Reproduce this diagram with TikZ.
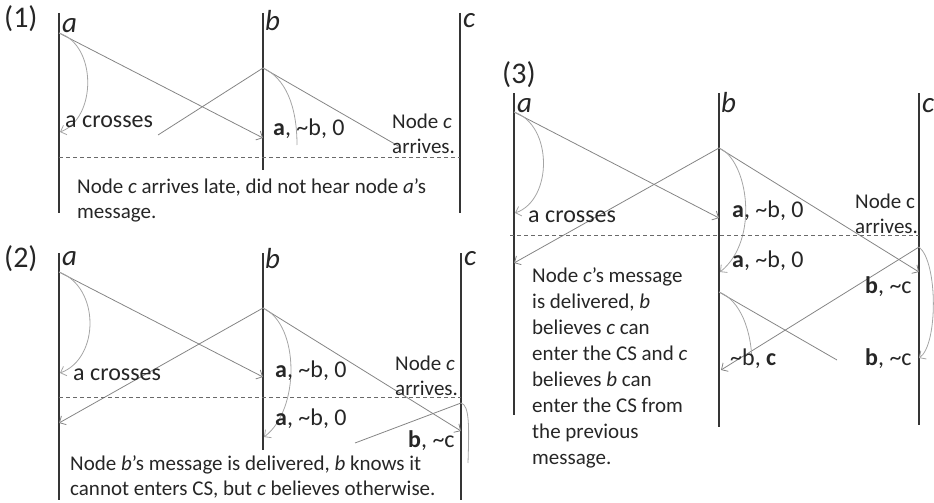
\documentclass[tikz,border=0pt]{standalone}
\usepackage{fontspec}
\setmainfont{Carlito}
\usetikzlibrary{arrows.meta}
\definecolor{ink}{HTML}{262626}
\definecolor{life}{HTML}{353535}
\definecolor{msgc}{HTML}{858585}
\definecolor{arcc}{HTML}{A5A5A5}
\definecolor{dashc}{HTML}{6A6A6A}
\tikzset{
  lifeline/.style={draw=life, line width=1.3pt},
  msg/.style={draw=msgc, line width=0.8pt},
  msgarrow/.style={msg, -{Straight Barb[length=5pt,width=10pt]}},
  crossarc/.style={draw=arcc, line width=0.8pt},
  crossarrow/.style={crossarc, -{Straight Barb[length=5pt,width=10pt]}},
  syncline/.style={draw=dashc, line width=0.8pt, dash pattern=on 4pt off 3pt},
  txt/.style={inner sep=0pt, text=ink, anchor=base west},
  body/.style={txt, font=\fontsize{21}{25}\selectfont, align=left},
  bodyw/.style={txt, font=\fontsize{21}{26}\selectfont, align=left},
  lbl/.style={txt, font=\fontsize{24}{28}\selectfont},
  head/.style={txt, font=\fontsize{30}{34}\selectfont},
  pname/.style={txt, font=\fontsize{29}{32}\selectfont\itshape},
}
\begin{document}
\begin{tikzpicture}[x=1pt,y=-1pt]
\useasboundingbox (0,0) rectangle (934,503);

% ---------------- Panel (1) ----------------
\coordinate (a1t) at (59,13);  \coordinate (a1b) at (59,213);
\coordinate (b1t) at (263,13); \coordinate (b1b) at (263,170);
\coordinate (c1t) at (460,13); \coordinate (c1b) at (460,213);
\draw[lifeline] (a1t) -- (a1b);
\draw[lifeline] (b1t) -- (b1b);
\draw[lifeline] (c1t) -- (c1b);
\coordinate (a1s) at (59,33);
\coordinate (b1r) at (263,138);
\coordinate (a1x) at (60,132);
\coordinate (b1s) at (263,68);
\coordinate (b1l) at (158,135);
\coordinate (b1e) at (400,147);
\coordinate (b1x) at (297,145);
\coordinate (d1l) at (59,157); \coordinate (d1r) at (460,157);
\draw[msgarrow] (a1s) -- (b1r);
\draw[crossarrow] (a1s) .. controls (97,45) and (97,118) .. (a1x);
\draw[msg] (b1s) -- (b1l);
\draw[msg] (b1s) -- (b1e);
\draw[crossarc] (b1s) .. controls (285,78) and (297,105) .. (b1x);
\draw[syncline] (d1l) -- (d1r);
\node[head] (n1) at (4,28) {(1)};
\node[pname] (la1) at (62,33) {a};
\node[pname] (lb1) at (265,31) {b};
\node[pname] (lc1) at (463,28) {c};
\node[lbl] (ac1) at (65,127) {a crosses};
\node[lbl] (ab1) at (273,135) {\textbf{a}, \textasciitilde b, 0};
\node[body] (nc1) at (392,153) {Node \textit{c}\\arrives.};
\node[body] (cap1) at (77,218) {Node \textit{c} arrives late, did not hear node \textit{a}'s\\message.};

% ---------------- Panel (2) ----------------
\coordinate (a2t) at (59,253);  \coordinate (a2b) at (59,500);
\coordinate (b2t) at (263,253); \coordinate (b2b) at (263,450);
\coordinate (c2t) at (461,253); \coordinate (c2b) at (461,500);
\draw[lifeline] (a2t) -- (a2b);
\draw[lifeline] (b2t) -- (b2b);
\draw[lifeline] (c2t) -- (c2b);
\coordinate (a2s) at (59,272);
\coordinate (b2r) at (263,377);
\coordinate (a2x) at (60,373);
\coordinate (b2s) at (263,308);
\coordinate (a2r) at (59,423);
\coordinate (c2r) at (461,431);
\coordinate (b2x) at (264,437);
\coordinate (c2s) at (461,403);
\coordinate (c2l) at (355,443);
\coordinate (c2x) at (468,463);
\coordinate (d2l) at (59,397); \coordinate (d2r) at (461,397);
\draw[msgarrow] (a2s) -- (b2r);
\draw[crossarrow] (a2s) .. controls (100,287) and (100,358) .. (a2x);
\draw[msgarrow] (b2s) -- (a2r);
\draw[msgarrow] (b2s) -- (c2r);
\draw[crossarrow] (b2s) .. controls (300,325) and (300,410) .. (b2x);
\draw[msg] (c2s) -- (c2l);
\draw[crossarc] (c2s) .. controls (470,405) and (469,430) .. (c2x);
\draw[syncline] (d2l) -- (d2r);
\node[head] (n2) at (4,267) {(2)};
\node[pname] (la2) at (62,265) {a};
\node[pname] (lb2) at (265,268) {b};
\node[pname] (lc2) at (464,265) {c};
\node[lbl] (ac2) at (73,380) {a crosses};
\node[lbl] (ab2) at (275,377) {\textbf{a}, \textasciitilde b, 0};
\node[body] (nc2) at (395,395) {Node \textit{c}\\arrives.};
\node[lbl] (ab2b) at (275,425) {\textbf{a}, \textasciitilde b, 0};
\node[lbl] (bc2) at (408,447) {\textbf{b}, \textasciitilde c};
\node[body] (cap2) at (70,495) {Node \textit{b}'s message is delivered, \textit{b} knows it\\cannot enters CS, but \textit{c} believes otherwise.};

% ---------------- Panel (3) ----------------
\coordinate (a3t) at (514,93);  \coordinate (a3b) at (514,415);
\coordinate (b3t) at (719,93);  \coordinate (b3b) at (719,427);
\coordinate (c3t) at (919,93);  \coordinate (c3b) at (919,425);
\draw[lifeline] (a3t) -- (a3b);
\draw[lifeline] (b3t) -- (b3b);
\draw[lifeline] (c3t) -- (c3b);
\coordinate (a3s) at (514,112);
\coordinate (b3r) at (719,218);
\coordinate (a3x) at (515,213);
\coordinate (b3s) at (719,148);
\coordinate (a3r) at (514,263);
\coordinate (c3r) at (919,272);
\coordinate (b3x) at (720,272);
\coordinate (c3s) at (919,247);
\coordinate (b3l) at (721,370);
\coordinate (c3x) at (919,358);
\coordinate (b3m) at (719,292);
\coordinate (b3e) at (837,360);
\coordinate (b3y) at (752,365);
\coordinate (d3l) at (510,235); \coordinate (d3r) at (919,235);
\draw[msgarrow] (a3s) -- (b3r);
\draw[crossarrow] (a3s) .. controls (553,125) and (553,200) .. (a3x);
\draw[msgarrow] (b3s) -- (a3r);
\draw[msgarrow] (b3s) -- (c3r);
\draw[crossarrow] (b3s) .. controls (748,160) and (760,240) .. (b3x);
\draw[msgarrow] (c3s) -- (b3l);
\draw[crossarrow] (c3s) .. controls (938,262) and (938,345) .. (c3x);
\draw[msg] (b3m) -- (b3e);
\draw[crossarc] (b3m) .. controls (740,300) and (752,330) .. (b3y);
\draw[syncline] (d3l) -- (d3r);
\node[head] (n3) at (502,84) {(3)};
\node[pname] (la3) at (517,112) {a};
\node[pname] (lb3) at (721,112) {b};
\node[pname] (lc3) at (922,112) {c};
\node[lbl] (ac3) at (528,222) {a crosses};
\node[lbl] (ab3) at (732,217) {\textbf{a}, \textasciitilde b, 0};
\node[body] (nc3) at (855,233) {Node c\\arrives.};
\node[lbl] (ab3b) at (732,267) {\textbf{a}, \textasciitilde b, 0};
\node[lbl] (bc3) at (865,293) {\textbf{b}, \textasciitilde c};
\node[lbl] (bc3b) at (730,365) {\textasciitilde b, \textbf{c}};
\node[lbl] (bc3c) at (865,365) {\textbf{b}, \textasciitilde c};
\node[bodyw] (cap3) at (532,464) {Node \textit{c}'s message\\is delivered, \textit{b}\\believes \textit{c} can\\enter the CS and \textit{c}\\believes \textit{b} can\\enter the CS from\\the previous\\message.};
\end{tikzpicture}
\end{document}
